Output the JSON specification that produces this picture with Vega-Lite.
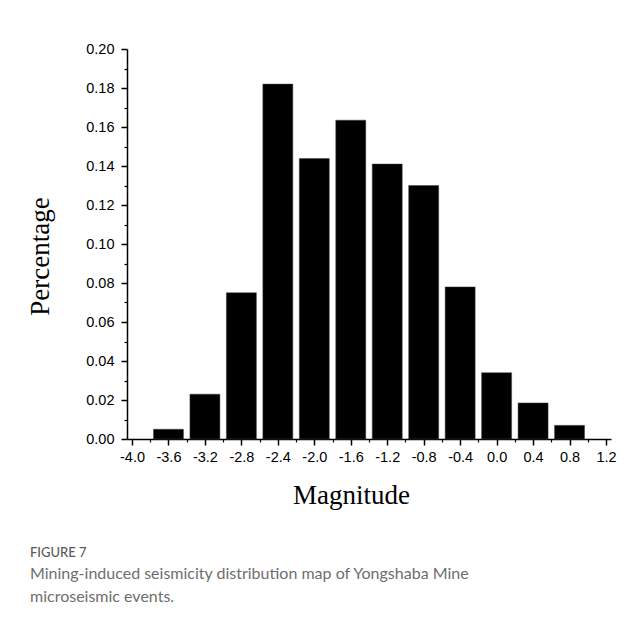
{
  "$schema": "https://vega.github.io/schema/vega-lite/v6.json",
  "width": 484,
  "height": 390,
  "autosize": "none",
  "padding": {"left": 127, "top": 49, "right": 28, "bottom": 189},
  "background": "white",
  "data": {
    "values": [
      {"magnitude": -3.6, "percentage": 0.005},
      {"magnitude": -3.2, "percentage": 0.023},
      {"magnitude": -2.8, "percentage": 0.075},
      {"magnitude": -2.4, "percentage": 0.182},
      {"magnitude": -2.0, "percentage": 0.1438},
      {"magnitude": -1.6, "percentage": 0.1635},
      {"magnitude": -1.2, "percentage": 0.141},
      {"magnitude": -0.8, "percentage": 0.130},
      {"magnitude": -0.4, "percentage": 0.078},
      {"magnitude": 0.0, "percentage": 0.034},
      {"magnitude": 0.4, "percentage": 0.0185},
      {"magnitude": 0.8, "percentage": 0.007}
    ]
  },
  "title": {
    "text": "FIGURE 7",
    "subtitle": ["Mining-induced seismicity distribution map of Yongshaba Mine", "microseismic events."],
    "orient": "bottom",
    "anchor": "start",
    "frame": "group",
    "dx": -97,
    "offset": 38,
    "font": "Lato",
    "fontSize": 13,
    "fontWeight": 500,
    "color": "#5a5a5a",
    "subtitleFont": "Lato",
    "subtitleFontSize": 16,
    "subtitleColor": "#6e6e6e",
    "subtitleLineHeight": 23,
    "subtitlePadding": 6
  },
  "layer": [
    {
      "mark": {"type": "bar", "color": "black", "size": 30, "stroke": "#444", "strokeWidth": 0.5},
      "encoding": {
        "x": {
          "field": "magnitude",
          "type": "quantitative",
          "scale": {"domain": [-4.0, 1.2], "nice": false, "zero": false},
          "axis": {
            "title": "Magnitude",
            "values": [-4.0, -3.6, -3.2, -2.8, -2.4, -2.0, -1.6, -1.2, -0.8, -0.4, 0.0, 0.4, 0.8, 1.2],
            "format": ".1f",
            "labelExpr": "replace(datum.label, '\u2212', '-')",
            "grid": false,
            "domainColor": "black",
            "domainWidth": 1.5,
            "tickColor": "black",
            "tickWidth": 1.5,
            "tickSize": 6,
            "labelFont": "Liberation Sans",
            "labelFontSize": 14.5,
            "labelColor": "black",
            "labelPadding": 5,
            "labelFlush": false,
            "labelOverlap": false,
            "titleFont": "Liberation Serif",
            "titleFontSize": 27,
            "titleFontWeight": "normal",
            "titleColor": "black",
            "titlePadding": 19,
            "titleX": 224
          }
        },
        "y": {
          "field": "percentage",
          "type": "quantitative",
          "scale": {"domain": [0, 0.2], "nice": false},
          "axis": {
            "title": "Percentage",
            "values": [0, 0.02, 0.04, 0.06, 0.08, 0.1, 0.12, 0.14, 0.16, 0.18, 0.2],
            "format": ".2f",
            "grid": false,
            "domainColor": "black",
            "domainWidth": 1.5,
            "tickColor": "black",
            "tickWidth": 1.5,
            "tickSize": 6,
            "labelFont": "Liberation Sans",
            "labelFontSize": 14.5,
            "labelColor": "black",
            "labelPadding": 7,
            "labelFlush": false,
            "labelOverlap": false,
            "titleFont": "Liberation Serif",
            "titleFontSize": 27,
            "titleFontWeight": "normal",
            "titleColor": "black",
            "titlePadding": 31,
            "titleY": 207
          }
        }
      }
    },
    {
      "mark": {"type": "bar", "opacity": 0},
      "encoding": {
        "x": {
          "field": "magnitude",
          "type": "quantitative",
          "axis": {
            "orient": "bottom",
            "title": null,
            "values": [-3.8, -3.4, -3.0, -2.6, -2.2, -1.8, -1.4, -1.0, -0.6, -0.2, 0.2, 0.6, 1.0],
            "labels": false,
            "domain": false,
            "grid": false,
            "tickColor": "black",
            "tickWidth": 1.2,
            "tickSize": 3
          }
        },
        "y": {
          "field": "percentage",
          "type": "quantitative",
          "axis": {
            "orient": "left",
            "title": null,
            "values": [0.01, 0.03, 0.05, 0.07, 0.09, 0.11, 0.13, 0.15, 0.17, 0.19],
            "labels": false,
            "domain": false,
            "grid": false,
            "tickColor": "black",
            "tickWidth": 1.2,
            "tickSize": 3
          }
        }
      }
    }
  ],
  "resolve": {"axis": {"x": "independent", "y": "independent"}},
  "config": {"view": {"stroke": null}}
}
